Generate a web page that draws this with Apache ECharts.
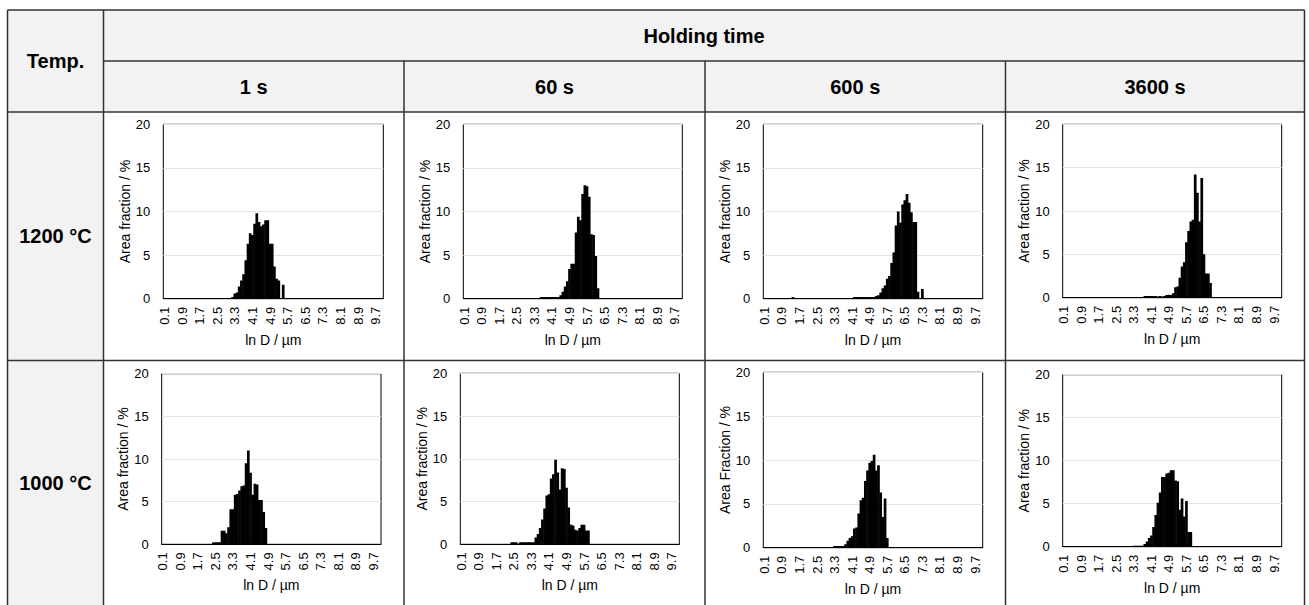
<!DOCTYPE html>
<html>
<head>
<meta charset="utf-8">
<title>Grain size distribution</title>
<script src="https://cdn.jsdelivr.net/npm/echarts@6/dist/echarts.min.js"></script>
<style>
  html, body { margin: 0; padding: 0; background: #fff; }
  #main { width: 1309px; height: 605px; }
</style>
</head>
<body>
<div id="main"></div>
<script>
// ln D bins, 0.1 ... 10.0 in steps of 0.1
const binLabels = Array.from({ length: 100 }, (_, i) => ((i + 1) / 10).toFixed(1));

const temperatures = ['1200 °C', '1000 °C'];
const holdingTimes = ['1 s', '60 s', '600 s', '3600 s'];
const yTicks = [0, 5, 10, 15, 20];

// Area fraction (%) per bin; each list starts at the bin named by its "first" label
const first1200_1s = '3.2';
const frac1200_1s = [0.2, 0.6, 0.7, 1.4, 2.1, 2.8, 4.4, 6.3, 7.5, 7.3, 8.6, 9.8, 8.8, 8.3, 8.5, 9.0, 9.0, 6.3, 6.3, 3.7, 2.3, 2.1, 0, 1.6];

const first1200_60s = '3.6';
const frac1200_60s = [0.2, 0.2, 0.2, 0.2, 0.2, 0.2, 0.2, 0.2, 0.2, 0.4, 0.8, 1.4, 2.0, 3.4, 4.0, 4.0, 7.6, 9.4, 9.0, 12.0, 13.0, 12.9, 11.7, 7.4, 7.3, 4.9, 1.2];

const first1200_600s = '1.4';
const frac1200_600s = [0.2, 0, 0, 0, 0, 0, 0, 0, 0, 0, 0, 0, 0, 0, 0, 0, 0, 0, 0, 0, 0, 0, 0, 0, 0, 0, 0, 0,
  0.2, 0.2, 0.2, 0.2, 0.2, 0.2, 0.2, 0.2, 0.2, 0.2, 0.3, 0.4, 0.7, 1.2, 1.5, 2.3, 2.6, 4.1, 5.3, 8.4, 10.0, 8.7, 10.8, 11.3, 12.0, 11.0, 9.9, 8.8, 8.8, 0.8, 0, 1.1];

const first1200_3600s = '3.8';
const frac1200_3600s = [0.2, 0.2, 0.2, 0.2, 0.2, 0.2, 0.15, 0.2, 0.15, 0.2, 0.3, 0.35, 0.3, 0.5, 1.2, 1.3, 2.3, 3.6, 4.1, 6.4, 7.7, 8.8, 9.0, 14.2, 12.1, 8.8, 13.8, 5.0, 2.8, 2.8, 1.7];

const first1000_1s = '2.4';
const frac1000_1s = [0.2, 0.25, 0.25, 0.25, 1.6, 1.6, 1.3, 2.0, 4.1, 4.1, 5.8, 5.9, 6.3, 6.8, 6.9, 9.5, 11.0, 8.4, 5.8, 7.1, 7.0, 5.2, 5.2, 3.8, 1.9];

const first1000_60s = '2.4';
const frac1000_60s = [0.25, 0.25, 0.25, 0.1, 0.25, 0.25, 0.25, 0.25, 0.25, 0.25, 0.25, 0.8, 1.2, 1.9, 2.9, 4.2, 5.7, 5.85, 7.7, 8.2, 9.9, 8.4, 6.4, 8.9, 8.8, 6.6, 4.3, 2.3, 2.2, 1.7, 1.6, 1.9, 2.3, 2.3, 1.6, 1.6];

const first1000_600s = '3.3';
const frac1000_600s = [0.2, 0.2, 0.2, 0.2, 0.2, 0.4, 0.8, 1.1, 1.3, 2.2, 2.3, 3.9, 5.4, 5.7, 7.6, 8.8, 9.7, 9.9, 10.6, 8.8, 9.4, 6.3, 3.5, 5.6, 1.1];

const first1000_3600s = '3.3';
const frac1000_3600s = [0.1, 0.1, 0.1, 0.1, 0.1, 0.3, 0.6, 1.0, 1.3, 2.3, 3.7, 5.1, 6.3, 8.1, 8.1, 8.5, 8.6, 8.9, 8.9, 7.7, 7.6, 4.3, 5.6, 3.5, 5.3, 1.7, 1.7];

// place a run of values onto the full bin axis as [binLabel, value] pairs
function toBins(firstLabel, values) {
  const out = binLabels.map(label => [label, 0]);
  const start = binLabels.indexOf(firstLabel);
  values.forEach((v, i) => { out[start + i][1] = v; });
  return out;
}

const FONT = '"Liberation Sans", Arial, Helvetica, sans-serif';

// one histogram per table cell (row = temperature, col = holding time)
const panels = [
  { first: first1200_1s,    values: frac1200_1s,    yName: 'Area fraction / %', box: [163.3, 124.3, 220, 174.4] },
  { first: first1200_60s,   values: frac1200_60s,   yName: 'Area fraction / %', box: [463.3, 124.3, 219, 174.4] },
  { first: first1200_600s,  values: frac1200_600s,  yName: 'Area fraction / %', box: [763.3, 124.3, 219.4, 174.4] },
  { first: first1200_3600s, values: frac1200_3600s, yName: 'Area fraction / %', box: [1062.7, 124.3, 219, 173.4] },
  { first: first1000_1s,    values: frac1000_1s,    yName: 'Area fraction / %', box: [161.7, 373.7, 219.3, 170.6] },
  { first: first1000_60s,   values: frac1000_60s,   yName: 'Area fraction / %', box: [460.3, 373.3, 219, 171] },
  { first: first1000_600s,  values: frac1000_600s,  yName: 'Area Fraction / %', box: [763.3, 372.3, 219.4, 175.4] },
  { first: first1000_3600s, values: frac1000_3600s, yName: 'Area fraction / %', box: [1062.7, 374.7, 219, 172] }
];

// table frame
const colX = [7.5, 103.5, 404, 705, 1005.5, 1304.5];
const rowY = [10, 61, 112, 360.5, 605];
const lineColor = '#333';

const graphics = [];
graphics.push({ type: 'rect', silent: true, z: -10,
  shape: { x: colX[0], y: rowY[0], width: colX[5] - colX[0], height: rowY[2] - rowY[0] },
  style: { fill: '#f2f2f2' } });
graphics.push({ type: 'rect', silent: true, z: -10,
  shape: { x: colX[0], y: rowY[2], width: colX[1] - colX[0], height: rowY[4] - rowY[2] },
  style: { fill: '#f2f2f2' } });

function hLine(x1, x2, y) {
  graphics.push({ type: 'line', silent: true, z: 10, shape: { x1, y1: y, x2, y2: y },
    style: { stroke: lineColor, lineWidth: 1.5 } });
}
function vLine(x, y1, y2) {
  graphics.push({ type: 'line', silent: true, z: 10, shape: { x1: x, y1, x2: x, y2 },
    style: { stroke: lineColor, lineWidth: 1.5 } });
}
hLine(colX[0], colX[5], rowY[0]);
hLine(colX[1], colX[5], rowY[1]);
hLine(colX[0], colX[5], rowY[2]);
hLine(colX[0], colX[5], rowY[3]);
vLine(colX[0], rowY[0], rowY[4]);
vLine(colX[1], rowY[0], rowY[4]);
vLine(colX[2], rowY[1], rowY[4]);
vLine(colX[3], rowY[1], rowY[4]);
vLine(colX[4], rowY[1], rowY[4]);
vLine(colX[5], rowY[0], rowY[4]);

function cellText(text, x, y) {
  graphics.push({ type: 'text', silent: true, z: 10,
    style: { text, x, y, font: 'bold 20px ' + FONT, fill: '#000',
      align: 'center', verticalAlign: 'middle', textAlign: 'center', textVerticalAlign: 'middle' } });
}
cellText('Temp.', (colX[0] + colX[1]) / 2, rowY[1]);
cellText('Holding time', (colX[1] + colX[5]) / 2, (rowY[0] + rowY[1]) / 2 + 0.5);
holdingTimes.forEach((t, i) => cellText(t, (colX[i + 1] + colX[i + 2]) / 2, (rowY[1] + rowY[2]) / 2 + 0.5));
cellText(temperatures[0], (colX[0] + colX[1]) / 2, 236);
cellText(temperatures[1], (colX[0] + colX[1]) / 2, 483);

// histogram column: spans the full bin width (plus a hair of overlap so neighbours merge)
function renderBin(params, api) {
  const value = api.value(1);
  if (!value) return null;
  const top = api.coord([api.value(0), value]);
  const base = api.coord([api.value(0), 0]);
  const w = api.size([1, 0])[0];
  return {
    type: 'rect',
    shape: { x: top[0] - w / 2 - 0.25, y: top[1], width: w + 0.5, height: base[1] - top[1] },
    style: { fill: '#000' }
  };
}

const grids = [], xAxes = [], yAxes = [], series = [];
panels.forEach((p, i) => {
  const [left, top, width, height] = p.box;
  grids.push({ left, top, width, height, containLabel: false, show: true,
    borderColor: '#000', borderWidth: 1, backgroundColor: 'transparent' });
  xAxes.push({
    type: 'category', gridIndex: i, data: binLabels, boundaryGap: true,
    axisLine: { show: true, lineStyle: { color: '#000', width: 1 } },
    axisTick: { show: false },
    axisLabel: { interval: 7, rotate: 90, margin: 8, fontSize: 13, color: '#000', fontFamily: FONT },
    splitLine: { show: false },
    name: 'ln D / µm', nameLocation: 'middle', nameGap: 34,
    nameTextStyle: { fontSize: 14, color: '#000', fontFamily: FONT }
  });
  yAxes.push({
    type: 'value', gridIndex: i, min: yTicks[0], max: yTicks[yTicks.length - 1], interval: yTicks[1] - yTicks[0],
    axisLine: { show: false }, axisTick: { show: false },
    axisLabel: { margin: 13, fontSize: 13, color: '#000', fontFamily: FONT },
    splitLine: { show: true, lineStyle: { color: '#e4e4e4', width: 1 } },
    name: p.yName, nameLocation: 'middle', nameGap: 31,
    nameTextStyle: { fontSize: 14, color: '#000', fontFamily: FONT }
  });
  series.push({
    type: 'custom', xAxisIndex: i, yAxisIndex: i,
    data: toBins(p.first, p.values),
    encode: { x: 0, y: 1 },
    renderItem: renderBin,
    clip: true,
    silent: true
  });
});

const chart = echarts.init(document.getElementById('main'), null, { renderer: 'svg' });
chart.setOption({
  backgroundColor: '#fff',
  animation: false,
  textStyle: { fontFamily: FONT },
  graphic: { elements: graphics },
  grid: grids,
  xAxis: xAxes,
  yAxis: yAxes,
  series
});
</script>
</body>
</html>
